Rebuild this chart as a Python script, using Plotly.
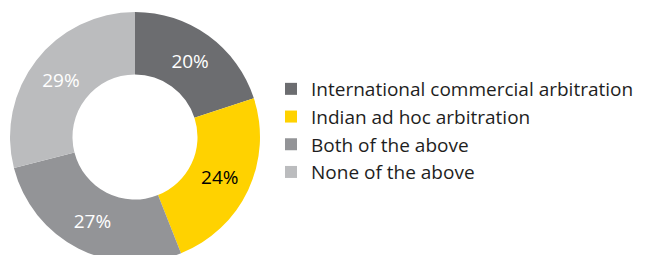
import plotly.graph_objects as go

categories = ["International commercial arbitration", "Indian ad hoc arbitration",
              "Both of the above", "None of the above"]
values = [20, 24, 27, 29]
colors = ["#6c6d70", "#ffd200", "#939497", "#bbbcbe"]
text_colors = ["#ffffff", "#000000", "#ffffff", "#ffffff"]

W, H = 645, 265
cx, cy, r = 135, 137, 125
FONT = "Open Sans"

fig = go.Figure(go.Pie(
    labels=categories,
    values=values,
    hole=0.5,
    sort=False,
    direction="clockwise",
    rotation=0,
    marker=dict(colors=colors, line=dict(width=0)),
    texttemplate="%{value}%",
    textposition="inside",
    insidetextorientation="horizontal",
    textfont=dict(color=text_colors, size=19, family=FONT),
    domain=dict(x=[(cx - r) / W, (cx + r) / W], y=[(H - cy - r) / H, (H - cy + r) / H]),
))

fig.update_layout(
    width=W, height=H,
    margin=dict(l=0, r=0, t=0, b=0),
    paper_bgcolor="white",
    font=dict(family=FONT, size=18, color="#1e1e1e"),
    showlegend=True,
    legend=dict(x=271 / W, y=(H - 70) / H, xanchor="left", yanchor="top",
                font=dict(size=19, color="#1e1e1e", family=FONT), bgcolor="rgba(0,0,0,0)"),
)

fig.write_html("out.html", config={"displayModeBar": False},
               post_script="document.body.style.margin='0';document.body.style.overflow='hidden';")
